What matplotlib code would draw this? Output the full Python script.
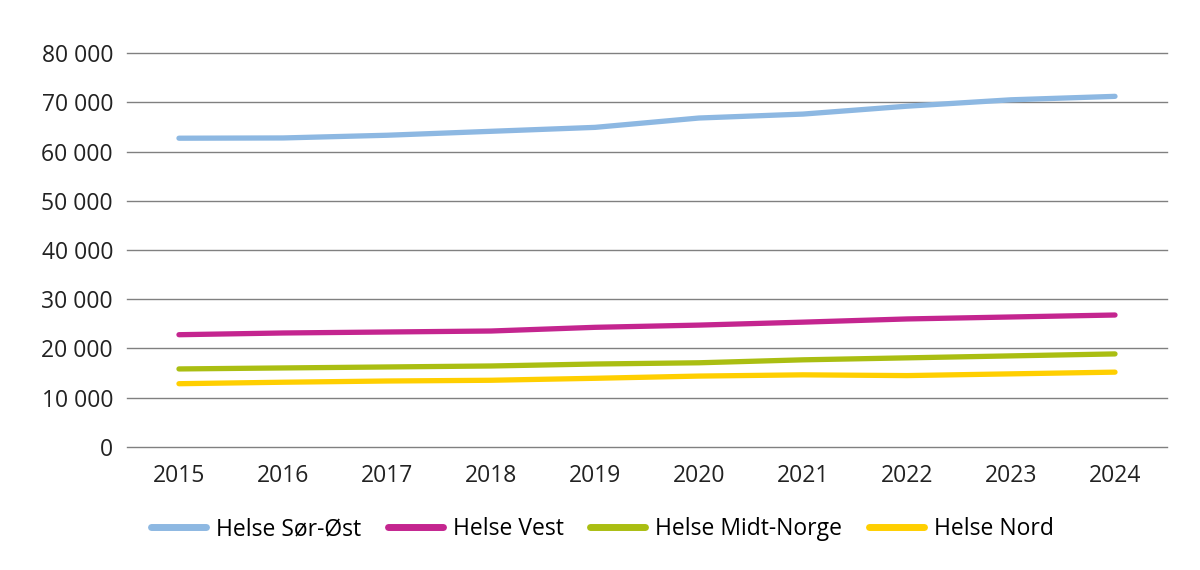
import matplotlib
matplotlib.use("Agg")
import matplotlib.pyplot as plt
from matplotlib.ticker import FuncFormatter

years = ["2015", "2016", "2017", "2018", "2019", "2020", "2021", "2022", "2023", "2024"]
sor_ost = [62700, 62750, 63300, 64100, 64900, 66800, 67600, 69200, 70500, 71200]
vest = [22800, 23150, 23350, 23550, 24300, 24750, 25350, 26000, 26400, 26800]
midt_norge = [15850, 16050, 16250, 16450, 16850, 17100, 17700, 18100, 18500, 18900]
nord = [12850, 13150, 13400, 13550, 13950, 14400, 14650, 14500, 14850, 15200]
yticks = [0, 10000, 20000, 30000, 40000, 50000, 60000, 70000, 80000]

series = [
    ("Helse Sør-Øst", sor_ost, "#8DB8E2"),
    ("Helse Vest", vest, "#C4258F"),
    ("Helse Midt-Norge", midt_norge, "#AABE12"),
    ("Helse Nord", nord, "#FFCF00"),
]

plt.rcParams['font.family'] = ['Open Sans', 'DejaVu Sans']

fig = plt.figure(figsize=(12, 5.7), dpi=100)
ax = fig.add_axes([0.1058, 0.2158, 0.8667, 0.6912])

x = list(range(len(years)))
for name, vals, col in series:
    ax.plot(x, vals, color=col, lw=3.8, solid_capstyle='round', label=name, zorder=3)

ax.set_xlim(-0.5, len(years) - 0.5)
ax.set_ylim(0, 80000)
ax.set_yticks(yticks)
ax.yaxis.set_major_formatter(FuncFormatter(lambda v, p: f"{int(v):,}".replace(",", " ")))
ax.set_xticks(x)
ax.set_xticklabels(years)
for yv in yticks:
    ax.axhline(yv, color='#808080', lw=1.0, zorder=1, clip_on=False)
for s in ax.spines.values():
    s.set_visible(False)
ax.tick_params(axis='both', length=0, labelsize=16.5, colors='#222222', pad=10)
ax.tick_params(axis='x', pad=12)

leg = fig.legend(loc='center', bbox_to_anchor=(0.502, 0.072), ncol=4, frameon=False,
                 fontsize=16.5, handlelength=2.4, columnspacing=1.15, handletextpad=0.45)
for l in leg.get_lines():
    l.set_linewidth(5)

fig.savefig("out.png", dpi=100)
